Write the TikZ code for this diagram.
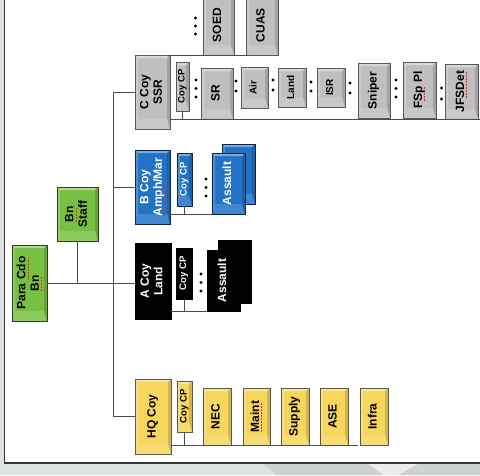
\documentclass[tikz,border=0pt]{standalone}
\usepackage{fontspec}
\setmainfont{Liberation Sans}
\usepackage{xcolor}
\usepackage{graphicx}
\usepackage{tikz}
\usetikzlibrary{shadows}

\definecolor{bggray}{RGB}{221,227,227}
\definecolor{bgdark}{RGB}{206,210,210}
\definecolor{framecol}{RGB}{55,55,55}
\definecolor{boxgray}{RGB}{192,190,190}
\definecolor{boxblue}{RGB}{34,114,198}
\definecolor{boxyellow}{RGB}{246,214,92}
\definecolor{boxgreen}{RGB}{120,192,66}
\definecolor{linecol}{RGB}{75,75,75}
\definecolor{spellred}{RGB}{235,40,40}

\newcommand{\vtext}[1]{\rotatebox{90}{\begin{tabular}{@{}c@{}}#1\end{tabular}}}
\newcommand{\spellmark}[1]{\setbox0\hbox{#1}\rlap{\textcolor{spellred}{\leaders\hbox{\rule[-0.45ex]{0.9pt}{0.6pt}\hspace{0.6pt}}\hskip\wd0}}\box0\relax}

\tikzset{
  bevel/.style={path picture={
    \coordinate (pa) at (path picture bounding box.south west);
    \coordinate (pb) at (path picture bounding box.north east);
    \fill[white,opacity=.4] (pa |- pb) -- (pb) -- ([shift={(-3pt,-3pt)}]pb) -- ([shift={(3pt,-3pt)}]pa |- pb) -- cycle;
    \fill[white,opacity=.2] (pa) -- (pa |- pb) -- ([shift={(3pt,-3pt)}]pa |- pb) -- ([shift={(3pt,10pt)}]pa) -- cycle;
    \fill[black,opacity=.15] (pb) -- (pb |- pa) -- ([shift={(-3pt,10pt)}]pb |- pa) -- ([shift={(-3pt,-3pt)}]pb) -- cycle;
    \fill[white,opacity=.15] (pa) -- (pb |- pa) -- ([shift={(-3pt,10pt)}]pb |- pa) -- ([shift={(3pt,10pt)}]pa) -- cycle;
  }},
  orgbox/.style={rectangle, inner sep=0pt, line width=0.7pt,
    drop shadow={shadow xshift=1pt,shadow yshift=-1pt,opacity=.45}},
  graybox/.style={orgbox, bevel, draw=black!65, fill=boxgray},
  bluebox/.style={orgbox, bevel, draw=boxblue!35!black, fill=boxblue, text=white},
  blackbox/.style={orgbox, draw=black, fill=black, text=white},
  yellowbox/.style={orgbox, bevel, draw=black!65, fill=boxyellow},
  greenbox/.style={orgbox, bevel, draw=boxgreen!35!black, fill=boxgreen},
  bigtxt/.style={font=\fontsize{12}{13.5}\selectfont\bfseries},
  smalltxt/.style={font=\fontsize{10}{11}\selectfont\bfseries},
  cptxt/.style={font=\fontsize{9.5}{10}\selectfont\bfseries},
  conn/.style={draw=linecol, line width=0.6pt},
  boxsize/.style 2 args={minimum width=#1pt, minimum height=#2pt},
}

\begin{document}
\begin{tikzpicture}[x=1pt,y=-1pt]
  \useasboundingbox (0,0) rectangle (480,475);
  \clip (0,0) rectangle (480,475);

  % Background and frame
  \fill[bggray] (0,0) rectangle (480,475);
  \fill[bgdark] (263,464) -- (480,464) -- (480,475) -- (277,475) -- cycle;
  \fill[white,opacity=.6] (368,464) -- (418,464) -- (398,475) -- (384,475) -- cycle;
  \fill[white] (4.5,-5) rectangle (485,463);
  \draw[framecol,line width=1.6pt] (4.5,-5) |- (485,463);

  % Battalion
  \node[greenbox,bigtxt,boxsize={35}{76}] (para) at (29.5,283) {\vtext{Para \spellmark{Cdo}\\\spellmark{Bn}}};
  \node[greenbox,bigtxt,boxsize={41}{54}] (staff) at (77.5,214) {\vtext{\spellmark{Bn}\\Staff}};
  \coordinate (trunk) at (113,0);

  % Companies
  \node[graybox,bigtxt,boxsize={35}{74}] (ccoy) at (152.5,92) {\vtext{C Coy\\SSR}};
  \node[bluebox,bigtxt,boxsize={35}{74}] (bcoy) at (152.5,187) {\vtext{B Coy\\\spellmark{Amph}/Mar}};
  \node[blackbox,bigtxt,boxsize={36}{76}] (acoy) at (153,281) {\vtext{A Coy\\Land}};
  \node[yellowbox,bigtxt,boxsize={36}{75}] (hq) at (153,416.5) {\vtext{HQ Coy}};

  % C Coy elements
  \node[graybox,bigtxt,boxsize={31}{60}] (soed) at (218.5,25) {\vtext{SOED}};
  \node[graybox,bigtxt,boxsize={32}{60}] (cuas) at (262,25) {\vtext{CUAS}};
  \node[graybox,cptxt,boxsize={13}{49}] (ccp) at (182.5,86.5) {\vtext{Coy CP}};
  \node[graybox,bigtxt,boxsize={32}{51}] (sr) at (217,93.5) {\vtext{SR}};
  \node[graybox,smalltxt,boxsize={27}{41}] (air) at (254.5,87.5) {\vtext{Air}};
  \node[graybox,smalltxt,boxsize={28}{39}] (land) at (292,87.5) {\vtext{Land}};
  \node[graybox,smalltxt,boxsize={28}{39}] (isr) at (331,87.5) {\vtext{ISR}};
  \node[graybox,bigtxt,boxsize={32}{55}] (sniper) at (374,90.5) {\vtext{Sniper}};
  \node[graybox,bigtxt,boxsize={33}{56}] (fsp) at (419.5,90) {\vtext{F\spellmark{Sp} Pl}};
  \node[graybox,bigtxt,boxsize={33}{55}] (jfs) at (461.5,91.5) {\vtext{JF\spellmark{SDet}}};
  \coordinate (cend) at (480,119.5);

  % B Coy elements
  \node[bluebox,cptxt,boxsize={15}{53}] (bcp) at (184.5,179.5) {\vtext{Coy CP}};
  \node[bluebox,boxsize={33}{60}] (bas2) at (238.5,174) {};
  \node[bluebox,bigtxt,boxsize={33}{61}] (bas) at (228.5,183.5) {\vtext{Assault}};

  % A Coy elements
  \node[blackbox,cptxt,boxsize={16}{51}] (acp) at (184,273.5) {\vtext{Coy CP}};
  \node[blackbox,boxsize={33}{63}] (aas2) at (234.5,271.5) {};
  \node[blackbox,bigtxt,boxsize={33}{61}] (aas) at (223.5,280.5) {\vtext{Assault}};

  % HQ Coy elements
  \node[yellowbox,cptxt,boxsize={15}{51}] (hcp) at (184.5,406.5) {\vtext{Coy CP}};
  \node[yellowbox,bigtxt,boxsize={28}{57}] (nec) at (217,416.5) {\vtext{NEC}};
  \node[yellowbox,bigtxt,boxsize={27}{57}] (maint) at (256.5,416.5) {\vtext{\spellmark{Maint}}};
  \node[yellowbox,bigtxt,boxsize={28}{57}] (supply) at (295,416.5) {\vtext{Supply}};
  \node[yellowbox,bigtxt,boxsize={28}{57}] (ase) at (334,416.5) {\vtext{ASE}};
  \node[yellowbox,bigtxt,boxsize={28}{57}] (infra) at (374,416.5) {\vtext{Infra}};

  % Connectors
  \draw[conn] (para.east) -- (acoy.west |- para.east);
  \draw[conn] (staff.south) -- (staff.south |- para.east);
  \draw[conn] (ccoy.west) -| (trunk |- hq.west) -- (hq.west);
  \draw[conn] (bcoy.west) -- (trunk |- bcoy.west);
  \draw[conn] (ccoy.east |- soed.south) -- ([xshift=4pt]cuas.south west);
  \draw[conn] (ccoy.east |- cend) -- (cend);
  \draw[conn] (ccp.south) -- (ccp.south |- cend);
  \draw[conn] (bcoy.east |- bas.south) -- (bas.south west);
  \draw[conn] (bcp.south) -- (bcp.south |- bas.south);
  \draw[conn] (acoy.east |- aas.south) -- (aas.south west);
  \draw[conn] (acp.south) -- (acp.south |- aas.south);
  \draw[conn] (hq.east |- nec.south) -- ([xshift=10pt]ase.south east);
  \draw[conn] (hcp.south) -- (hcp.south |- nec.south);

  % Dots
  \foreach \y in {18,26,34} \fill (195.5,\y) circle (1.7pt);
  \foreach \y in {80,88.5,97} \fill (196,\y) circle (1.7pt);
  \foreach \y in {81,91} \fill (236,\y) circle (1.7pt);
  \foreach \y in {80,90} \fill (273,\y) circle (1.7pt);
  \foreach \y in {82,91} \fill (311,\y) circle (1.7pt);
  \foreach \y in {83,93} \fill (350,\y) circle (1.7pt);
  \foreach \y in {80,88.5,97} \fill (396,\y) circle (1.7pt);
  \foreach \y in {88,99} \fill (441.5,\y) circle (1.7pt);
  \foreach \y in {179,187.5,196} \fill (206,\y) circle (1.7pt);
  \foreach \y in {274,282.5,291} \fill (201,\y) circle (1.7pt);

\end{tikzpicture}
\end{document}
